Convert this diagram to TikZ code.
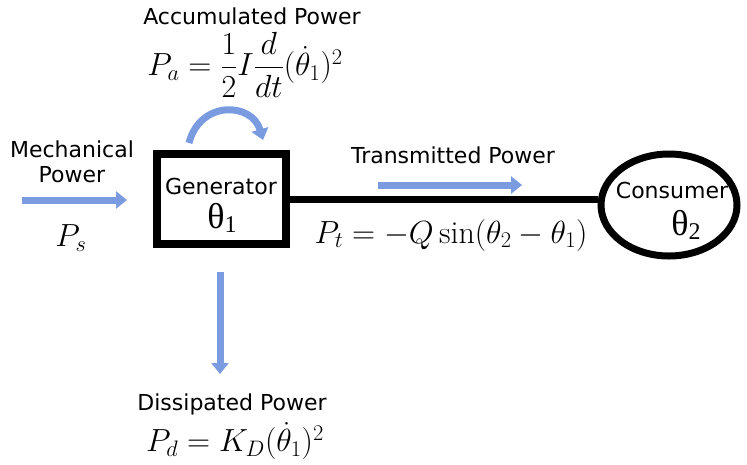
\RequirePackage{fix-cm}
\documentclass[tikz,border=0pt]{standalone}
\usepackage{amsmath}
\usepackage{fontspec}
\setsansfont{DejaVu Sans}
\newfontfamily\thetafont{Liberation Serif}
\usepackage{xcolor}
\definecolor{flowblue}{HTML}{7A9BE0}
\usepackage{tikz}
\usetikzlibrary{
  arrows.meta,
  positioning,
  shapes.geometric
}

\begin{document}
\begin{tikzpicture}[
  x=1pt, y=-1pt,
  label/.style={font=\sffamily\fontsize{22}{25}\selectfont, inner sep=0pt, align=center},
  formula/.style={font=\fontsize{32}{36}\selectfont, inner sep=0pt},
  genbox/.style={rectangle, draw=black, line width=8pt, minimum width=129pt, minimum height=90pt, inner sep=0pt},
  consumer/.style={ellipse, draw=black, line width=7pt, minimum width=136pt, minimum height=102pt, inner sep=0pt},
  angle/.style={font=\thetafont\fontsize{36}{38}\selectfont, inner sep=0pt},
  flow/.style={line width=7pt, flowblue, -{Triangle[width=17pt, length=11pt]}},
  wire/.style={line width=7pt, black},
]
\useasboundingbox (0,0) rectangle (747,464);

% Generator (links)
\node[genbox] (gen) at (221,199) {};
\node[label] (gentxt) at (221,186) {Generator};
\node[angle] (theta1) at (222,218) {θ\raisebox{-0.25ex}{\fontsize{24}{26}\selectfont 1}};

% Consumer (rechts)
\node[consumer] (cons) at (669,205) {};
\node[label] (constxt) at (672,190) {Consumer};
\node[angle] (theta2) at (686,225) {θ\raisebox{-0.25ex}{\fontsize{24}{26}\selectfont 2}};

% Transmission line
\draw[wire] (gen.east) -- (cons.west |- gen.east);

% Mechanical power
\node[label] (mech) at (72,162) {Mechanical\\Power};
\node[formula] (ps) at (71,238) {$P_s$};
\coordinate (ms) at (22,200);
\coordinate (me) at (127,200);
\draw[flow] (ms) -- (me);

% Accumulated power
\node[label] (acc) at (252,16) {Accumulated Power};
\node[formula] (pa) at (245,65) {$P_a = \dfrac{1}{2} I \dfrac{d}{dt}(\dot{\theta}_1)^2$};
\coordinate (as) at (189,143);
\coordinate (ae) at (263,140);
\draw[flow] (as) .. controls (200,100) and (252,102) .. (ae);

% Transmitted power
\node[label] (trans) at (453,155) {Transmitted Power};
\node[formula] (pt) at (451,235) {$P_t = -Q\sin(\theta_2 - \theta_1)$};
\coordinate (ts) at (378,185);
\coordinate (te) at (522,185);
\draw[flow] (ts) -- (te);

% Dissipated power
\coordinate (ds) at (220,272);
\coordinate (de) at (220,374);
\draw[flow] (ds) -- (de);
\node[label] (diss) at (232,404) {Dissipated Power};
\node[formula] (pd) at (235,441) {$P_d = K_D(\dot{\theta}_1)^2$};

\end{tikzpicture}
\end{document}
